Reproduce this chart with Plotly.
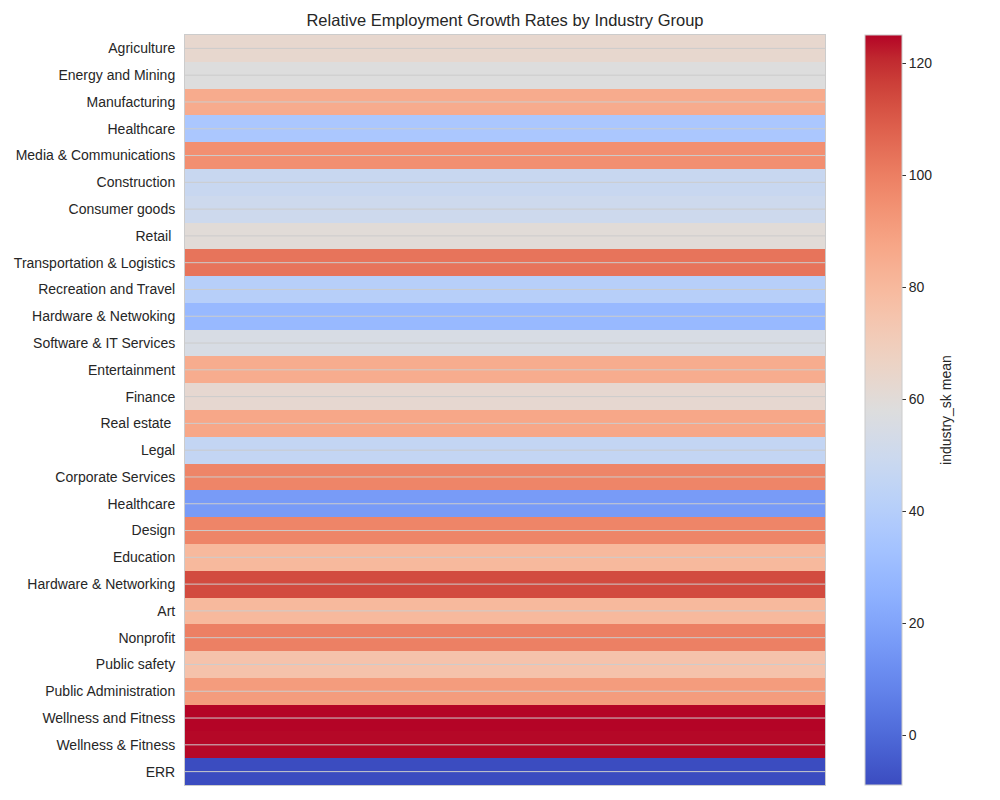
import plotly.graph_objects as go

industries = [
    "Agriculture", "Energy and Mining", "Manufacturing", "Healthcare",
    "Media & Communications", "Construction", "Consumer goods", "Retail ",
    "Transportation & Logistics", "Recreation and Travel", "Hardware & Netwoking",
    "Software & IT Services", "Entertainment", "Finance", "Real estate ", "Legal",
    "Corporate Services", "Healthcare", "Design", "Education",
    "Hardware & Networking", "Art", "Nonprofit", "Public safety",
    "Public Administration", "Wellness and Fitness", "Wellness & Fitness", "ERR",
]
industry_sk_mean = [
    63.4, 58.0, 85.5, 36.0, 95.0, 48.0, 50.0, 60.0, 103.0, 41.0, 28.6, 55.0,
    85.0, 62.7, 87.0, 46.0, 98.0, 16.5, 98.0, 80.0, 113.6, 80.0, 99.5, 75.5,
    91.0, 125.0, 124.5, -8.9,
]

coolwarm_rgb = [
    (59, 76, 192), (68, 90, 204), (77, 104, 215), (87, 117, 225), (98, 130, 234),
    (108, 142, 241), (119, 154, 247), (130, 165, 251), (141, 176, 254),
    (152, 185, 255), (163, 194, 255), (174, 201, 253), (184, 208, 249),
    (194, 213, 244), (204, 217, 238), (213, 219, 230), (221, 221, 221),
    (229, 216, 209), (236, 211, 197), (241, 204, 185), (245, 196, 173),
    (247, 187, 160), (247, 177, 148), (247, 166, 135), (244, 154, 123),
    (241, 141, 111), (236, 127, 99), (229, 112, 88), (222, 96, 77),
    (213, 80, 66), (203, 62, 56), (192, 40, 47), (180, 4, 38),
]
n = len(coolwarm_rgb) - 1
colorscale = [[i / n, "rgb(%d,%d,%d)" % c] for i, c in enumerate(coolwarm_rgb)]

rows = list(range(len(industries)))

fig = go.Figure(go.Heatmap(
    z=[[v] for v in industry_sk_mean],
    x=[0],
    y=rows,
    colorscale=colorscale,
    zmin=min(industry_sk_mean),
    zmax=max(industry_sk_mean),
    hoverinfo="skip",
    colorbar=dict(
        thickness=37, len=1.0, lenmode="fraction",
        x=1.0625, xanchor="left", xpad=0, y=0.5, yanchor="middle", ypad=0,
        outlinewidth=1, outlinecolor="#cccccc",
        ticks="outside", ticklen=4, tickcolor="#333333",
        tickvals=[0, 20, 40, 60, 80, 100, 120],
        tickfont=dict(size=14, color="#262626"),
    ),
))

# row grid lines drawn above the heatmap (seaborn whitegrid look)
gx, gy = [], []
for r in rows:
    gx += [-0.5, 0.5, None]
    gy += [r, r, None]
fig.add_trace(go.Scatter(x=gx, y=gy, mode="lines", showlegend=False,
                         hoverinfo="skip",
                         line=dict(color="rgba(204,204,204,1)", width=1)))

fig.update_layout(
    width=1000, height=800,
    margin=dict(l=177, r=183, t=27, b=23, autoexpand=False),
    paper_bgcolor="white", plot_bgcolor="white",
    font=dict(family="Liberation Sans, Arial, sans-serif", color="#262626"),
    title=dict(text="Relative Employment Growth Rates by Industry Group",
               x=(177 + 817) / 2 / 1000, xanchor="center",
               y=1 - 12 / 800, yanchor="middle",
               font=dict(size=16.5, color="#262626")),
    annotations=[dict(text="industry_sk mean", textangle=-90,
                      xref="paper", yref="paper", x=1.189, y=0.5,
                      xanchor="center", yanchor="middle", showarrow=False,
                      font=dict(size=14, color="#262626"))],
)
fig.update_xaxes(range=[-0.5, 0.5], showticklabels=False, showgrid=False,
                 zeroline=False, showline=True, linecolor="#cccccc",
                 linewidth=1, mirror=True, ticks="", automargin=False)
fig.update_yaxes(tickvals=rows, ticktext=industries,
                 range=[len(rows) - 0.5, -0.5],
                 showgrid=False, zeroline=False, showline=True,
                 linecolor="#cccccc", linewidth=1, mirror=True, ticks="",
                 ticklabelstandoff=6, automargin=False,
                 tickfont=dict(size=14, color="#262626"))

fig.write_html("out.html")
